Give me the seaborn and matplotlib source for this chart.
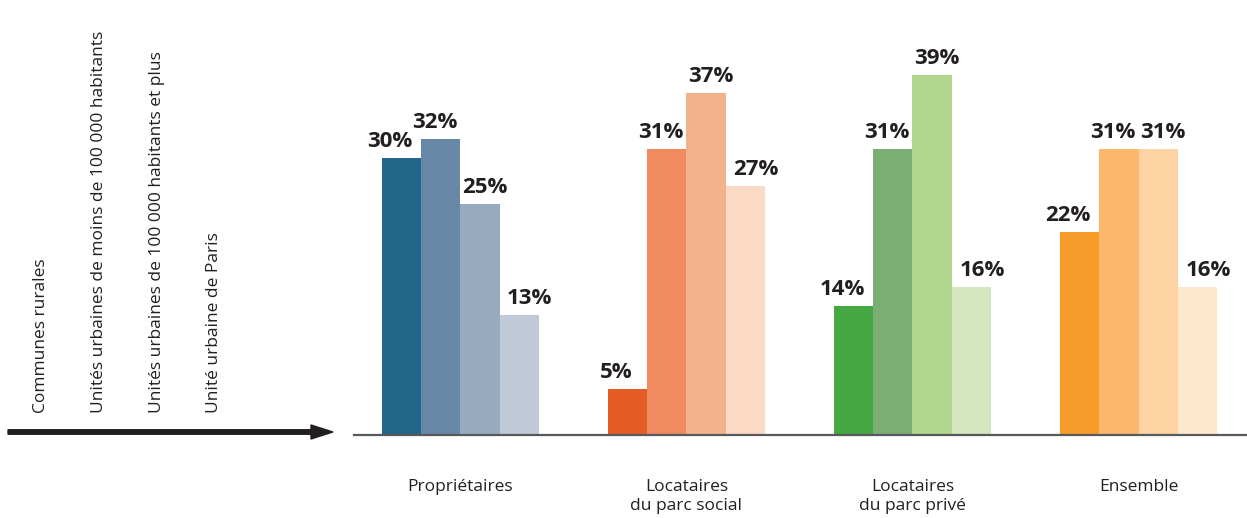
import matplotlib
matplotlib.use("Agg")
import matplotlib.pyplot as plt
import pandas as pd
import seaborn as sns
from matplotlib.patches import FancyArrow

# Housing status groups (x axis) and urban zone types (hue)
groups = ["Propriétaires", "Locataires\ndu parc social", "Locataires\ndu parc privé", "Ensemble"]
zones = [
    "Communes rurales",
    "Unités urbaines de moins de 100 000 habitants",
    "Unités urbaines de 100 000 habitants et plus",
    "Unité urbaine de Paris",
]

# Shares (%) per zone type, one list per housing status
proprietaires = [30, 32, 25, 13]
locataires_social = [5, 31, 37, 27]
locataires_prive = [14, 31, 39, 16]
ensemble = [22, 31, 31, 16]

# One colour ramp per housing status, dark to light across zone types
palettes = [
    ["#22668a", "#6988a7", "#98aac0", "#c0c9d8"],
    ["#e55c26", "#ef8b5e", "#f3b28c", "#fbdac5"],
    ["#45a843", "#7bae74", "#b1d68e", "#d3e6bf"],
    ["#f59c2a", "#fdb76d", "#fdd3a4", "#fee7cf"],
]

series = [proprietaires, locataires_social, locataires_prive, ensemble]
rows = []
for g, vals in zip(groups, series):
    for z, v in zip(zones, vals):
        rows.append({"groupe": g, "zone": z, "part": v})
df = pd.DataFrame(rows)

sns.set_theme(style="white")
plt.rcParams["font.family"] = ["Open Sans", "DejaVu Sans"]
TEXT = "#231f20"

fig = plt.figure(figsize=(12.47, 5.18), dpi=100)
W, H = 1247, 518
ax = fig.add_axes([354 / W, 83 / H, (W - 354) / W, 435 / H])

sns.barplot(
    data=df, x="groupe", y="part", hue="zone",
    order=groups, hue_order=zones,
    width=0.696, gap=0, dodge=True, legend=False,
    errorbar=None, ax=ax, saturation=1,
)

# Recolour each bar with its group's ramp and write its value above it
label_dx = [-8.3, -4.3, 3.3, 7.5]  # points, per zone type
for h, container in enumerate(ax.containers):
    for c, bar in enumerate(container):
        bar.set_facecolor(palettes[c][h])
        bar.set_edgecolor("none")
        val = series[c][h]
        ax.annotate(
            f"{val}%",
            xy=(bar.get_x() + bar.get_width() / 2, bar.get_height()),
            xytext=(label_dx[h], 8), textcoords="offset points",
            ha="center", va="baseline",
            fontsize=16, fontweight="bold", color=TEXT,
        )

ax.set_xlim(-0.471, 3.48)
ax.set_ylim(0, 47.1)
ax.set_xlabel("")
ax.set_ylabel("")
ax.set_yticks([])
for s in ["left", "top", "right"]:
    ax.spines[s].set_visible(False)
ax.spines["bottom"].set_color("#58595b")
ax.spines["bottom"].set_linewidth(1.6)
ax.tick_params(axis="x", length=0, pad=32, labelsize=12.5, labelcolor=TEXT)
for t in ax.get_xticklabels():
    t.set_linespacing(1.2)
    t.set_verticalalignment("top")

# Zone legend: rotated labels above an arrow pointing toward the bars
legend_x = [41, 99, 157, 214]
for xpix, name in zip(legend_x, zones):
    fig.text(xpix / W, 1 - 413 / H, name, rotation=90, ha="center", va="bottom",
             fontsize=12.5, color=TEXT)

arrow = FancyArrow(
    8 / W, 1 - 432 / H, 325 / W, 0,
    width=4.5 / H, head_width=14 / H, head_length=22 / W,
    length_includes_head=True, color=TEXT, transform=fig.transFigure,
)
fig.add_artist(arrow)

fig.savefig("out.png", dpi=100, facecolor="white")
